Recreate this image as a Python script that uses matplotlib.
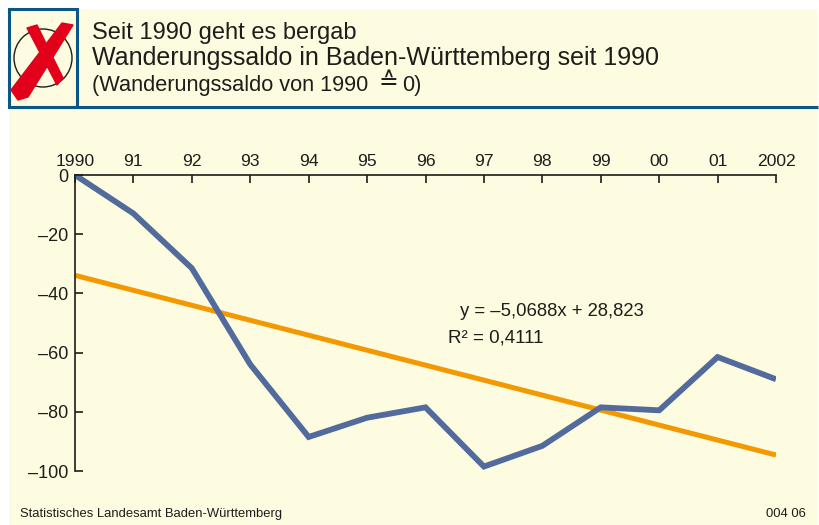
import matplotlib
matplotlib.use('Agg')
import matplotlib.pyplot as plt
from matplotlib.patches import Rectangle, Circle, Polygon

plt.rcParams['font.family'] = ['Liberation Sans', 'DejaVu Sans']

# data
years = list(range(1990, 2003))
year_labels = ['1990', '91', '92', '93', '94', '95', '96', '97', '98', '99', '00', '01', '2002']
saldo = [0, -13, -31.5, -64, -88.5, -82, -78.5, -98.5, -91.5, -78.5, -79.5, -61.5, -69]
trend_years = [1990, 2002]
trend = [-33.9, -94.6]
y_ticks = [0, -20, -40, -60, -80, -100]
y_labels = ['0', '–20', '–40', '–60', '–80', '–100']

W, H = 819, 525
cream = '#fefce0'
blue = '#0b5688'
dark = '#1d1d1b'
red = '#e2001a'

fig = plt.figure(figsize=(W / 100, H / 100), dpi=100, facecolor='white')

# background layer in pixel coordinates
bg = fig.add_axes([0, 0, 1, 1])
bg.set_xlim(0, W)
bg.set_ylim(H, 0)
bg.axis('off')
bg.add_patch(Rectangle((9, 9), 808, 516, fc=cream, ec='none'))
bg.plot([9, 818], [107, 107], color=blue, lw=2.2, solid_capstyle='butt')
bg.add_patch(Rectangle((9, 9), 68, 98, fc='none', ec=blue, lw=2.2))

# crossed circle logo
bg.add_patch(Circle((43, 58), 29, fc='none', ec=dark, lw=1))
bg.add_patch(Polygon([(27, 28), (37, 25), (63, 78), (57, 85)], fc=red, ec=red, lw=1, joinstyle='round'))
bg.add_patch(Polygon([(62, 23), (73, 25), (28, 97), (18, 100), (11, 90)], fc=red, ec=red, lw=1, joinstyle='round'))

# header text
bg.text(92, 33, 'Seit 1990 geht es bergab', fontsize=17, color=dark, va='center')
bg.text(92, 58, 'Wanderungssaldo in Baden-Württemberg seit 1990', fontsize=18, color=dark, va='center')
bg.text(92, 85, '(Wanderungssaldo von 1990', fontsize=15.7, color=dark, va='center')
bg.text(388.5, 83, '≙', fontsize=17, color=dark, va='center', ha='center')
bg.text(402, 85, '0)', fontsize=15.7, color=dark, va='center')

# footer
bg.text(20, 514, 'Statistisches Landesamt Baden-Württemberg', fontsize=9.4, color=dark, va='center')
bg.text(806, 514, '004 06', fontsize=9.4, color=dark, va='center', ha='right')

# chart
ax = fig.add_axes([75 / W, 1 - 471 / H, (776 - 75) / W, (471 - 175) / H])
ax.patch.set_alpha(0)
ax.set_xlim(1990, 2002)
ax.set_ylim(-100, 0)

ax.plot(trend_years, trend, color='#f39800', lw=3.6, solid_capstyle='butt')
ax.plot(years, saldo, color='#526b9c', lw=4.2, solid_capstyle='butt', solid_joinstyle='miter')

for s in ['right', 'bottom']:
    ax.spines[s].set_visible(False)
for s in ['left', 'top']:
    ax.spines[s].set_linewidth(1.2)
    ax.spines[s].set_color(dark)

ax.xaxis.tick_top()
ax.set_xticks(years)
ax.set_xticklabels(year_labels)
ax.set_yticks(y_ticks)
ax.set_yticklabels(y_labels)
ax.tick_params(axis='x', direction='in', length=6, width=1.2, color=dark, labelsize=12.6, labelcolor=dark, pad=4)
ax.tick_params(axis='y', direction='in', length=6, width=1.2, color=dark, labelsize=13, labelcolor=dark, pad=5)

bg.text(460, 312, 'y = –5,0688x + 28,823', fontsize=13.3, color=dark, va='center')
bg.text(448, 338, 'R² = 0,4111', fontsize=13.5, color=dark, va='center')

fig.savefig('out.png', dpi=100)
